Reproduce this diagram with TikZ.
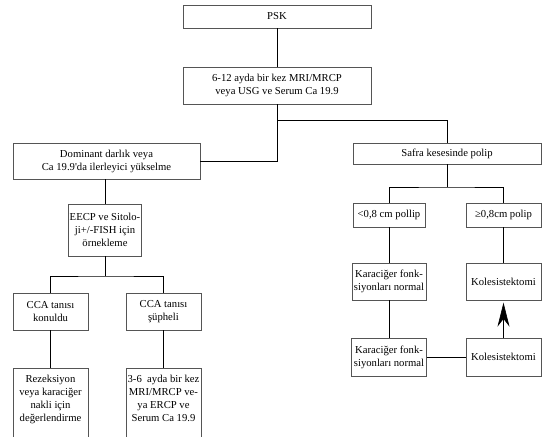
\documentclass[tikz,border=0pt]{standalone}
\usepackage{fontspec}
\setmainfont{Liberation Serif}
\newfontfamily\boxfont{Liberation Serif}
\usetikzlibrary{arrows.meta}

\begin{document}
\begin{tikzpicture}[x=0.75pt, y=-0.75pt,
    box/.style={draw=boxgray, line width=0.6pt, align=center, inner sep=1pt, outer sep=0pt,
        font=\boxfont\fontsize{8}{9.75}\selectfont},
    tallbox/.style={box, anchor=north, minimum width=56.25pt, inner ysep=5pt, text depth=52pt},
    link/.style={draw=black, line width=0.5pt}]
    % Define colors
    \definecolor{boxgray}{RGB}{85, 85, 85}

    % Canvas
    \useasboundingbox (0,0) rectangle (546,436);
    \clip (0,0) rectangle (546,436);

    % Top
    \node[box, minimum width=141pt, minimum height=17.25pt] (psk) at (277,16.5) {PSK};
    \node[box, minimum width=141pt, minimum height=27.75pt] (mri) at (277,85.5) {6-12 ayda bir kez MRI/MRCP\\veya USG ve Serum Ca 19.9};

    % Left branch
    \node[box, minimum width=140.25pt, minimum height=27pt] (dom) at (106.5,161) {Dominant darlık veya\\Ca 19.9\textquotesingle da ilerleyici yükselme};
    \node[box, minimum width=54pt, minimum height=39pt] (eecp) at (105,230) {EECP ve Sitolo-\\ji+/-FISH için\\örnekleme};
    \node[box, minimum width=56.25pt, minimum height=27.75pt] (cca1) at (50.5,311.5) {CCA tanısı\\konuldu};
    \node[box, minimum width=56.25pt, minimum height=27.75pt] (cca2) at (163.5,311.5) {CCA tanısı\\şüpheli};
    \node[tallbox] (rez) at (50.5,368) {Rezeksiyon\\veya karaciğer\\nakli için\\değerlendirme};
    \node[tallbox] (ercp) at (163.5,368) {3-6\ \ ayda bir kez\\MRI/MRCP ve-\\ya ERCP ve\\Serum Ca 19.9};

    % Right branch
    \node[box, minimum width=141pt, minimum height=15.75pt] (safra) at (447,153.5) {Safra kesesinde polip};
    \node[box, minimum width=54pt, minimum height=18pt] (smallp) at (389,215) {<0,8 cm pollip};
    \node[box, minimum width=56.25pt, minimum height=18pt] (bigp) at (503.5,215) {≥0,8cm polip};
    \node[box, minimum width=55.5pt, minimum height=27.75pt] (kc1) at (389,281.5) {Karaciğer fonk-\\siyonları normal};
    \node[box, minimum width=56.25pt, minimum height=27.75pt] (kol1) at (503.5,281.5) {Kolesistektomi};
    \node[box, minimum width=56.25pt, minimum height=28.5pt] (kc2) at (389,357) {Karaciğer fonk-\\siyonları normal};
    \node[box, minimum width=56.25pt, minimum height=28.5pt] (kol2) at (503.5,357) {Kolesistektomi};

    % Connectors
    \coordinate (fork) at (277,120);
    \coordinate (lfork) at (105,276);
    \coordinate (rfork) at (447,187);
    \draw[link] (psk) -- (mri);
    \draw[link] (mri) -- (fork) -| (safra);
    \draw[link] (fork) |- (dom);
    \draw[link] (dom.south -| eecp) -- (eecp);
    \draw[link] (eecp) -- (lfork);
    \draw[link] (cca1) |- (lfork) -| (cca2);
    \draw[link] (cca1) -- (rez);
    \draw[link] (cca2) -- (ercp);
    \draw[link] (safra) -- (rfork);
    \draw[link] (smallp) |- (rfork) -| (bigp);
    \draw[link] (smallp) -- (kc1);
    \draw[link] (bigp) -- (kol1);
    \draw[link] (kc1) -- (kc2);
    \draw[link] (kc2) -- (kol2);
    \draw[link, -{Stealth[length=18pt, width=9pt]}, shorten >=2pt] (kol2) -- (kol1);
\end{tikzpicture}
\end{document}
